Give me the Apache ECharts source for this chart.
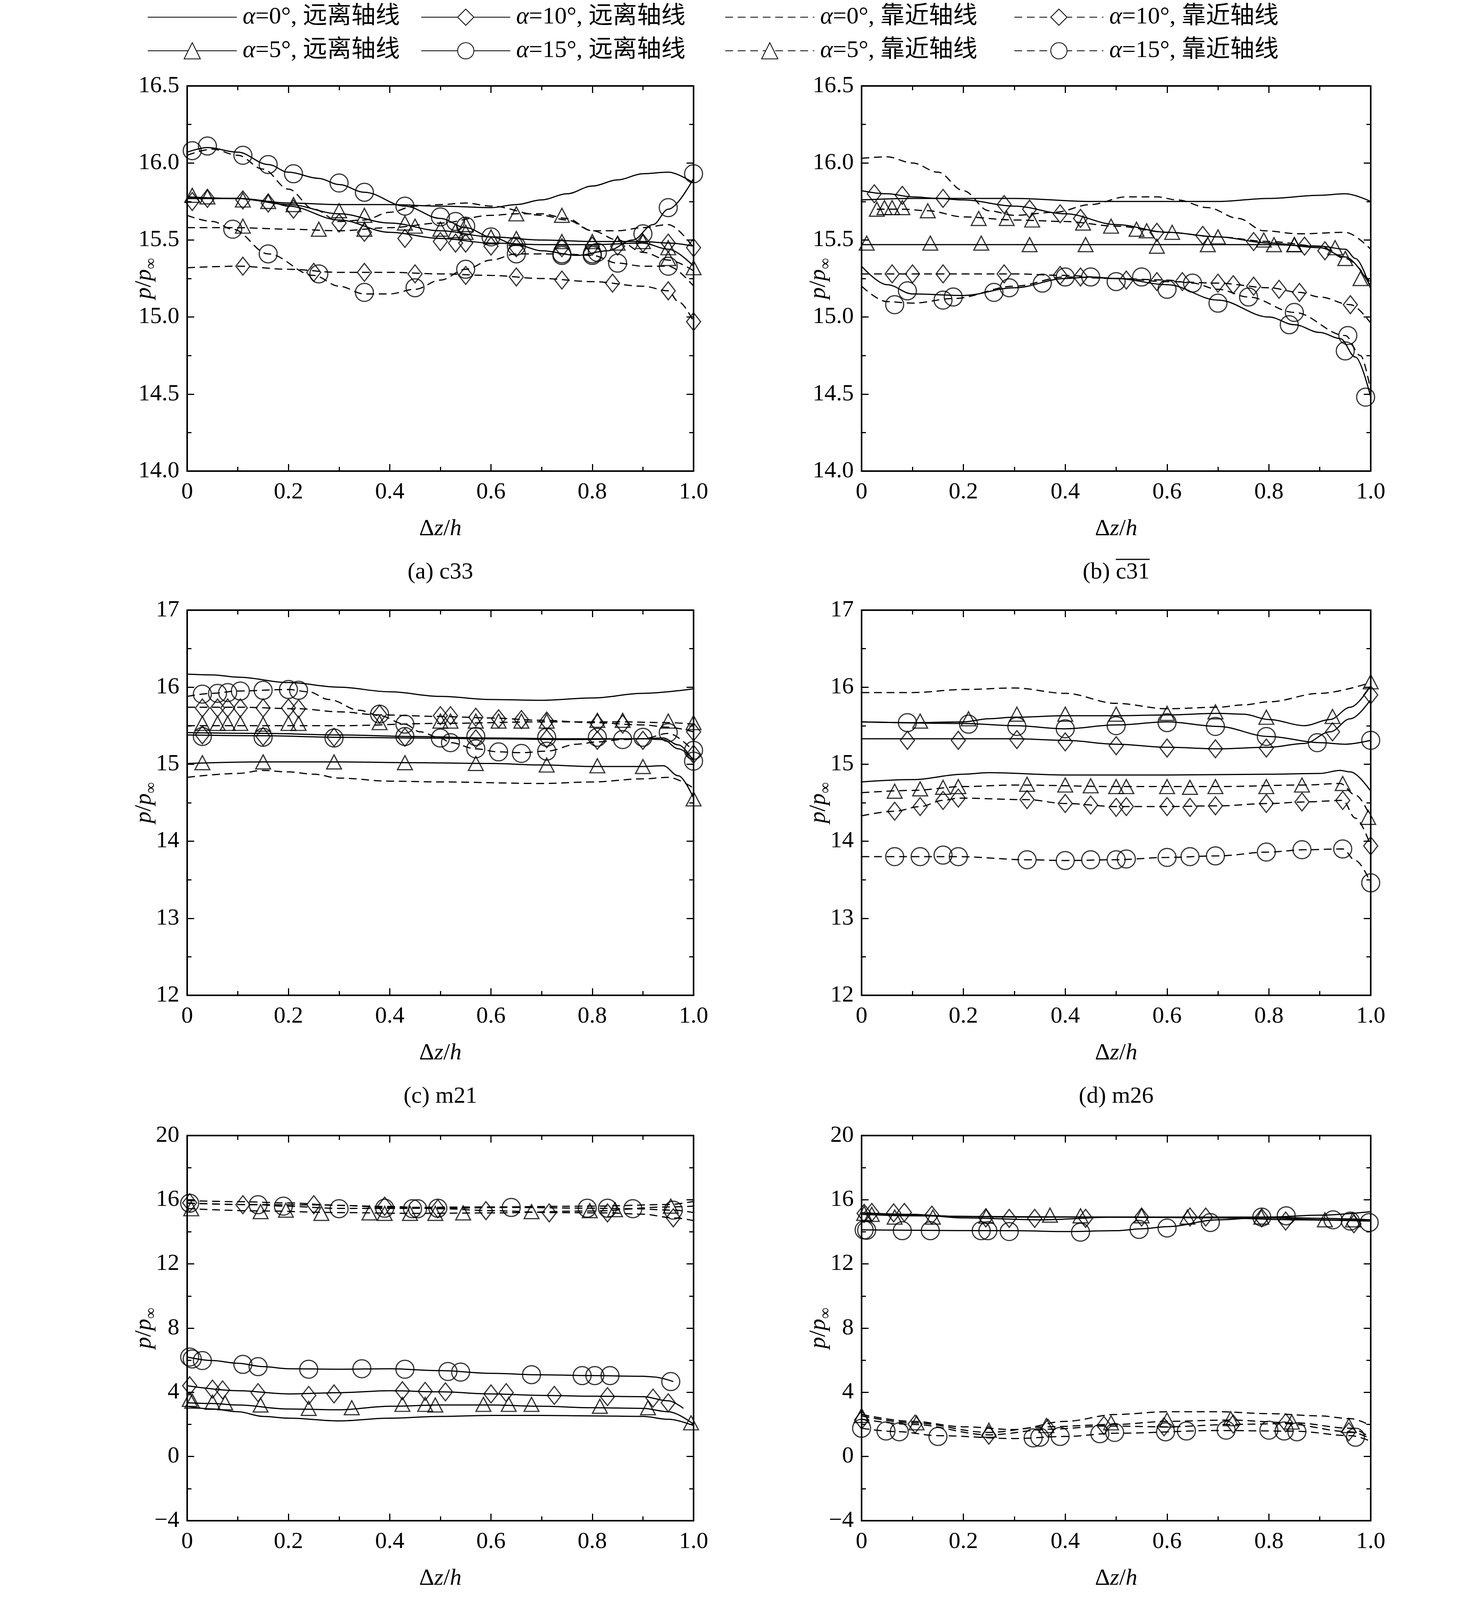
<!DOCTYPE html>
<html>
<head>
<meta charset="utf-8">
<script src="https://cdn.jsdelivr.net/npm/echarts@6/dist/echarts.min.js"></script>
<style>
  html, body { margin: 0; padding: 0; background: #fff; }
  #chart { width: 3780px; height: 4192px; }
</style>
</head>
<body>
<div id="chart"></div>
<script>
// ---- series names / tick labels ----
const legendNames = ['α=0°, 远离轴线', 'α=5°, 远离轴线', 'α=10°, 远离轴线', 'α=15°, 远离轴线',
                     'α=0°, 靠近轴线', 'α=5°, 靠近轴线', 'α=10°, 靠近轴线', 'α=15°, 靠近轴线'];
const xTickLabels = ['0', '0.2', '0.4', '0.6', '0.8', '1.0'];
const yTicksAB = ['14.0', '14.5', '15.0', '15.5', '16.0', '16.5'];
const yTicksCD = ['12', '13', '14', '15', '16', '17'];
const yTicksEF = ['−4', '0', '4', '8', '12', '16', '20'];
const subLabels = ['(a) ', '(b) ', '(c) ', '(d) ', '(e) ', '(f) '];
const subCodes = ['c33', 'c31', 'm21', 'm26', 'w10', 'w20'];
const subOverline = [false, true, false, false, true, true];

// ---- (a) c33 ----
const aFar0 = [[0,15.77],[0.1,15.77],[0.2,15.74],[0.3,15.73],[0.4,15.73],[0.5,15.72],[0.6,15.71],[0.65,15.73],[0.7,15.76],[0.75,15.80],[0.8,15.85],[0.85,15.89],[0.9,15.93],[0.95,15.94],[1.0,15.87]];
const aFar5 = [[0,15.78],[0.1,15.77],[0.2,15.73],[0.3,15.67],[0.4,15.61],[0.5,15.56],[0.6,15.52],[0.7,15.50],[0.8,15.49],[0.9,15.49],[0.95,15.48],[1.0,15.46]];
const aFar5Pts = [[0.01,15.79],[0.04,15.78],[0.11,15.76],[0.16,15.75],[0.21,15.73],[0.30,15.69],[0.35,15.66],[0.43,15.61],[0.45,15.59],[0.50,15.57],[0.53,15.56],[0.55,15.55],[0.60,15.52],[0.65,15.51],[0.74,15.49],[0.80,15.49],[0.85,15.48],[0.90,15.49],[0.95,15.45]];
const aFar10 = [[0,15.77],[0.1,15.77],[0.16,15.75],[0.2,15.72],[0.3,15.63],[0.4,15.55],[0.5,15.51],[0.6,15.48],[0.7,15.47],[0.8,15.47],[0.9,15.48],[0.95,15.44],[1.0,15.33]];
const aFar10Pts = [[0.01,15.75],[0.04,15.77],[0.11,15.76],[0.16,15.74],[0.21,15.70],[0.30,15.61],[0.35,15.55],[0.43,15.51],[0.50,15.49],[0.53,15.48],[0.55,15.48],[0.60,15.46],[0.65,15.45],[0.74,15.45],[0.80,15.46],[0.85,15.46],[0.90,15.48],[0.95,15.48],[1.0,15.45]];
const aFar15 = [[0,16.07],[0.04,16.1],[0.1,16.07],[0.16,15.99],[0.2,15.94],[0.26,15.9],[0.3,15.86],[0.35,15.81],[0.43,15.72],[0.5,15.64],[0.55,15.58],[0.6,15.52],[0.65,15.47],[0.7,15.43],[0.77,15.4],[0.83,15.43],[0.88,15.5],[0.92,15.6],[0.95,15.7],[1.0,15.9]];
const aFar15Pts = [[0.01,16.08],[0.04,16.11],[0.11,16.05],[0.16,15.99],[0.21,15.93],[0.30,15.87],[0.35,15.81],[0.43,15.72],[0.50,15.65],[0.53,15.62],[0.55,15.59],[0.60,15.52],[0.65,15.46],[0.74,15.41],[0.80,15.41],[0.81,15.42],[0.90,15.54],[0.95,15.71],[1.0,15.93]];
const aNear0 = [[0,16.05],[0.05,16.09],[0.1,16.05],[0.15,15.96],[0.2,15.83],[0.25,15.7],[0.3,15.62],[0.35,15.63],[0.4,15.68],[0.45,15.72],[0.5,15.73],[0.55,15.74],[0.6,15.72],[0.7,15.66],[0.75,15.63],[0.8,15.56],[0.85,15.56],[0.9,15.58],[0.95,15.6],[1.0,15.45]];
const aNear5 = [[0,15.58],[0.1,15.58],[0.2,15.57],[0.3,15.56],[0.4,15.58],[0.5,15.61],[0.6,15.66],[0.65,15.67],[0.7,15.67],[0.75,15.64],[0.8,15.56],[0.85,15.5],[0.9,15.42],[0.95,15.37],[1.0,15.3]];
const aNear5Pts = [[0.11,15.59],[0.26,15.57],[0.35,15.57],[0.55,15.6],[0.65,15.67],[0.74,15.66],[0.95,15.38],[1.0,15.32]];
const aNear10 = [[0,15.32],[0.1,15.33],[0.2,15.31],[0.3,15.29],[0.4,15.29],[0.5,15.28],[0.6,15.27],[0.7,15.25],[0.8,15.23],[0.9,15.2],[0.95,15.17],[0.97,15.1],[1.0,14.97]];
const aNear10Pts = [[0.11,15.33],[0.25,15.29],[0.35,15.29],[0.45,15.28],[0.55,15.27],[0.65,15.26],[0.74,15.24],[0.84,15.22],[0.95,15.17],[1.0,14.97]];
const aNear15 = [[0,15.66],[0.05,15.62],[0.09,15.57],[0.16,15.41],[0.25,15.27],[0.3,15.2],[0.35,15.15],[0.4,15.15],[0.45,15.18],[0.5,15.24],[0.55,15.31],[0.6,15.37],[0.65,15.41],[0.74,15.41],[0.8,15.4],[0.85,15.35],[0.9,15.33],[0.95,15.33],[1.0,15.2]];
const aNear15Pts = [[0.09,15.57],[0.16,15.41],[0.26,15.28],[0.35,15.16],[0.45,15.19],[0.55,15.31],[0.65,15.41],[0.74,15.40],[0.80,15.40],[0.85,15.35],[0.95,15.33]];

// ---- (b) c31 ----
const bFar0 = [[0,15.76],[0.1,15.77],[0.2,15.77],[0.3,15.77],[0.45,15.75],[0.6,15.75],[0.7,15.75],[0.8,15.77],[0.9,15.79],[0.95,15.80],[1.0,15.75]];
const bFar5 = [[0,15.47],[0.2,15.47],[0.4,15.47],[0.6,15.47],[0.8,15.47],[0.9,15.46],[0.95,15.44],[0.97,15.38],[1.0,15.18]];
const bFar5Pts = [[0.01,15.48],[0.135,15.48],[0.235,15.48],[0.33,15.47],[0.44,15.47],[0.58,15.46],[0.68,15.47],[0.81,15.47],[0.85,15.47]];
const bFar10 = [[0,15.82],[0.05,15.8],[0.1,15.78],[0.15,15.77],[0.2,15.76],[0.3,15.72],[0.4,15.67],[0.5,15.6],[0.6,15.55],[0.7,15.52],[0.8,15.48],[0.9,15.45],[0.95,15.39],[1.0,15.2]];
const bFar10Pts = [[0.025,15.80],[0.08,15.79],[0.16,15.77],[0.28,15.73],[0.33,15.70],[0.39,15.67],[0.43,15.64],[0.58,15.55],[0.67,15.53],[0.77,15.49],[0.87,15.46],[0.91,15.43]];
const bFar15 = [[0,15.33],[0.05,15.21],[0.1,15.15],[0.2,15.14],[0.3,15.19],[0.4,15.25],[0.45,15.26],[0.5,15.25],[0.6,15.21],[0.7,15.11],[0.8,15.0],[0.85,14.95],[0.9,14.9],[0.94,14.86],[0.97,14.74],[1.0,14.48]];
const bFar15Pts = [[0.09,15.17],[0.16,15.11],[0.18,15.13],[0.26,15.16],[0.29,15.19],[0.355,15.22],[0.40,15.26],[0.45,15.26],[0.50,15.23],[0.55,15.26],[0.60,15.18],[0.70,15.09],[0.84,14.95],[0.95,14.78],[0.99,14.48]];
const bNear0 = [[0,16.03],[0.05,16.04],[0.1,16.0],[0.15,15.94],[0.2,15.82],[0.25,15.69],[0.3,15.66],[0.38,15.68],[0.45,15.73],[0.52,15.78],[0.58,15.78],[0.62,15.76],[0.68,15.71],[0.74,15.64],[0.79,15.56],[0.86,15.54],[0.95,15.55],[1.0,15.44]];
const bNear5 = [[0.03,15.70],[0.08,15.70],[0.13,15.69],[0.2,15.65],[0.3,15.63],[0.4,15.62],[0.5,15.59],[0.6,15.55],[0.7,15.52],[0.8,15.49],[0.9,15.46],[0.95,15.38],[1.0,15.22]];
const bNear5Pts = [[0.03,15.70],[0.045,15.71],[0.06,15.71],[0.08,15.71],[0.13,15.69],[0.23,15.64],[0.285,15.64],[0.335,15.63],[0.435,15.61],[0.49,15.59],[0.54,15.57],[0.56,15.56],[0.61,15.55],[0.70,15.52],[0.79,15.5],[0.85,15.47],[0.93,15.45],[0.95,15.38],[0.98,15.25]];
const bNear10 = [[0,15.28],[0.1,15.28],[0.2,15.28],[0.3,15.28],[0.4,15.27],[0.5,15.25],[0.6,15.23],[0.7,15.22],[0.8,15.19],[0.86,15.16],[0.9,15.13],[0.96,15.08],[1.0,14.96]];
const bNear10Pts = [[0.06,15.28],[0.1,15.28],[0.16,15.28],[0.28,15.28],[0.39,15.27],[0.43,15.26],[0.52,15.24],[0.58,15.23],[0.63,15.23],[0.70,15.22],[0.73,15.21],[0.77,15.2],[0.82,15.18],[0.86,15.16],[0.96,15.08]];
const bNear15 = [[0,15.2],[0.05,15.1],[0.1,15.09],[0.18,15.12],[0.3,15.2],[0.4,15.26],[0.5,15.25],[0.6,15.24],[0.65,15.22],[0.7,15.18],[0.76,15.13],[0.85,15.03],[0.95,14.88],[0.98,14.75],[1.0,14.52]];
const bNear15Pts = [[0.065,15.08],[0.65,15.22],[0.76,15.13],[0.85,15.03],[0.955,14.88]];

// ---- (c) m21 ----
const cFar0 = [[0,16.17],[0.05,16.16],[0.1,16.13],[0.2,16.06],[0.3,16.0],[0.4,15.94],[0.5,15.88],[0.6,15.84],[0.7,15.83],[0.8,15.86],[0.9,15.92],[1.0,15.98]];
const cFar5 = [[0,15.01],[0.15,15.03],[0.3,15.03],[0.45,15.02],[0.6,15.01],[0.7,14.99],[0.8,14.97],[0.9,14.97],[0.94,14.98],[0.97,14.85],[1.0,14.56]];
const cFar5Pts = [[0.03,15.02],[0.15,15.03],[0.29,15.03],[0.43,15.02],[0.57,15.01],[0.71,14.99],[0.81,14.98],[0.90,14.97],[1.0,14.55]];
const cFar10 = [[0,15.41],[0.15,15.40],[0.3,15.38],[0.45,15.36],[0.6,15.34],[0.75,15.33],[0.9,15.33],[0.94,15.32],[0.97,15.2],[1.0,15.06]];
const cFar10Pts = [[0.03,15.38],[0.15,15.36],[0.29,15.35],[0.43,15.35],[0.57,15.33],[0.71,15.33],[0.81,15.31],[0.90,15.31],[1.0,15.13]];
const cFar15 = [[0,15.38],[0.15,15.37],[0.3,15.35],[0.45,15.34],[0.6,15.33],[0.75,15.32],[0.9,15.33],[0.94,15.34],[0.97,15.25],[1.0,15.04]];
const cFar15Pts = [[0.03,15.36],[0.15,15.35],[0.29,15.34],[0.43,15.36],[0.57,15.36],[0.71,15.35],[0.81,15.35],[0.86,15.32],[0.90,15.35],[1.0,15.04]];
const cNear0 = [[0,14.83],[0.1,14.88],[0.15,14.92],[0.2,14.9],[0.25,14.87],[0.3,14.82],[0.4,14.78],[0.5,14.77],[0.7,14.75],[0.8,14.77],[0.9,14.81],[0.95,14.83],[1.0,14.69]];
const cNear5 = [[0,15.5],[0.15,15.5],[0.3,15.5],[0.5,15.53],[0.7,15.55],[0.85,15.55],[0.95,15.54],[1.0,15.52]];
const cNear5Pts = [[0.03,15.53],[0.06,15.53],[0.08,15.53],[0.105,15.53],[0.15,15.52],[0.2,15.53],[0.22,15.53],[0.38,15.54],[0.5,15.56],[0.52,15.56],[0.57,15.56],[0.615,15.56],[0.66,15.56],[0.71,15.56],[0.81,15.57],[0.86,15.57],[0.95,15.56],[1.0,15.54]];
const cNear10 = [[0,15.74],[0.1,15.74],[0.22,15.72],[0.3,15.68],[0.38,15.64],[0.5,15.62],[0.6,15.6],[0.7,15.57],[0.8,15.54],[0.9,15.51],[0.95,15.48],[1.0,15.42]];
const cNear10Pts = [[0.03,15.73],[0.06,15.73],[0.08,15.73],[0.105,15.73],[0.15,15.73],[0.2,15.73],[0.22,15.72],[0.38,15.65],[0.5,15.63],[0.52,15.63],[0.57,15.61],[0.615,15.59],[0.66,15.58],[0.71,15.56],[0.81,15.53],[0.86,15.52],[1.0,15.42]];
const cNear15 = [[0,15.88],[0.05,15.92],[0.1,15.95],[0.2,15.97],[0.24,15.94],[0.28,15.84],[0.34,15.7],[0.38,15.63],[0.43,15.52],[0.46,15.42],[0.5,15.34],[0.52,15.28],[0.57,15.2],[0.615,15.16],[0.66,15.15],[0.71,15.17],[0.77,15.26],[0.81,15.29],[0.86,15.32],[0.9,15.33],[0.95,15.4],[1.0,15.17]];
const cNear15Pts = [[0.03,15.91],[0.06,15.92],[0.08,15.93],[0.105,15.95],[0.15,15.96],[0.2,15.97],[0.22,15.96],[0.38,15.65],[0.43,15.52],[0.5,15.34],[0.52,15.28],[0.57,15.2],[0.615,15.16],[0.66,15.14],[0.71,15.17],[0.95,15.41],[1.0,15.18]];

// ---- (d) m26 ----
const dFar0 = [[0,14.77],[0.1,14.8],[0.2,14.87],[0.25,14.89],[0.4,14.86],[0.6,14.86],[0.8,14.87],[0.9,14.88],[0.94,14.92],[0.96,14.9],[1.0,14.65]];
const dFar5 = [[0,15.55],[0.1,15.54],[0.2,15.55],[0.25,15.59],[0.3,15.61],[0.4,15.63],[0.5,15.63],[0.6,15.64],[0.7,15.66],[0.75,15.65],[0.8,15.58],[0.87,15.5],[0.92,15.58],[0.96,15.74],[1.0,16.02]];
const dFar5Pts = [[0.115,15.56],[0.21,15.59],[0.305,15.65],[0.4,15.65],[0.5,15.65],[0.6,15.66],[0.695,15.68],[0.795,15.61],[0.925,15.62],[1.0,16.07]];
const dFar10 = [[0,15.33],[0.15,15.33],[0.3,15.33],[0.4,15.31],[0.5,15.26],[0.6,15.22],[0.7,15.2],[0.8,15.22],[0.87,15.27],[0.92,15.42],[0.96,15.59],[1.0,15.84]];
const dFar10Pts = [[0.09,15.31],[0.19,15.31],[0.305,15.32],[0.4,15.29],[0.5,15.24],[0.6,15.21],[0.695,15.2],[0.795,15.21],[0.925,15.42],[1.0,15.9]];
const dFar15 = [[0,15.55],[0.2,15.53],[0.3,15.5],[0.4,15.46],[0.5,15.51],[0.6,15.55],[0.7,15.49],[0.8,15.36],[0.9,15.28],[0.95,15.26],[1.0,15.31]];
const dFar15Pts = [[0.09,15.54],[0.21,15.52],[0.305,15.49],[0.4,15.46],[0.5,15.5],[0.6,15.54],[0.695,15.49],[0.795,15.36],[0.895,15.28],[1.0,15.31]];
const dNear0 = [[0,15.93],[0.1,15.93],[0.2,15.97],[0.3,15.99],[0.4,15.92],[0.5,15.79],[0.6,15.72],[0.7,15.74],[0.75,15.77],[0.8,15.81],[0.9,15.92],[1.0,16.06]];
const dNear5 = [[0,14.63],[0.1,14.66],[0.2,14.71],[0.3,14.73],[0.5,14.71],[0.7,14.71],[0.87,14.73],[0.94,14.75],[0.97,14.6],[1.0,14.31]];
const dNear5Pts = [[0.065,14.65],[0.115,14.68],[0.16,14.70],[0.19,14.71],[0.325,14.74],[0.4,14.73],[0.45,14.72],[0.5,14.71],[0.52,14.71],[0.6,14.71],[0.645,14.70],[0.695,14.71],[0.795,14.71],[0.865,14.73],[0.945,14.75],[0.995,14.31]];
const dNear10 = [[0,14.33],[0.065,14.39],[0.115,14.45],[0.16,14.53],[0.19,14.56],[0.325,14.54],[0.4,14.49],[0.5,14.45],[0.6,14.45],[0.7,14.46],[0.8,14.49],[0.87,14.51],[0.945,14.53],[0.97,14.3],[1.0,13.94]];
const dNear10Pts = [[0.065,14.39],[0.115,14.45],[0.16,14.53],[0.19,14.56],[0.325,14.54],[0.4,14.49],[0.45,14.47],[0.5,14.44],[0.52,14.45],[0.6,14.45],[0.645,14.44],[0.695,14.46],[0.795,14.49],[0.865,14.51],[0.945,14.53],[1.0,13.94]];
const dNear15 = [[0,13.8],[0.1,13.8],[0.19,13.8],[0.325,13.76],[0.4,13.75],[0.5,13.76],[0.6,13.79],[0.7,13.81],[0.8,13.86],[0.87,13.89],[0.945,13.9],[0.97,13.75],[1.0,13.46]];
const dNear15Pts = [[0.065,13.8],[0.115,13.8],[0.16,13.82],[0.19,13.8],[0.325,13.76],[0.4,13.75],[0.45,13.76],[0.5,13.76],[0.52,13.77],[0.6,13.79],[0.645,13.8],[0.695,13.81],[0.795,13.86],[0.865,13.89],[0.945,13.9],[1.0,13.46]];

// ---- (e) w10 ----
const eFar0 = [[0,3.13],[0.05,2.96],[0.1,2.79],[0.15,2.5],[0.2,2.39],[0.3,2.22],[0.4,2.39],[0.5,2.5],[0.6,2.56],[0.7,2.56],[0.8,2.53],[0.9,2.5],[0.95,2.32],[1.0,1.93]];
const eFar5 = [[0,3.35],[0.05,3.3],[0.1,3.21],[0.2,2.96],[0.3,2.91],[0.4,3.13],[0.5,3.21],[0.6,3.21],[0.7,3.13],[0.8,3.04],[0.9,3.0],[0.95,2.79],[1.0,2.02]];
const eFar5Pts = [[0.005,3.56],[0.01,3.45],[0.05,3.38],[0.075,3.35],[0.145,3.21],[0.24,3.0],[0.325,3.04],[0.425,3.25],[0.47,3.25],[0.49,3.21],[0.585,3.25],[0.635,3.25],[0.68,3.25],[0.815,3.13],[0.91,3.04],[0.995,2.1]];
const eFar10 = [[0,4.41],[0.1,4.1],[0.2,3.9],[0.3,3.98],[0.4,4.1],[0.5,4.03],[0.6,3.9],[0.7,3.81],[0.8,3.76],[0.9,3.73],[0.95,3.47],[0.98,3.0]];
const eFar10Pts = [[0.005,4.41],[0.05,4.2],[0.07,4.15],[0.14,3.98],[0.24,3.81],[0.29,3.9],[0.425,4.1],[0.47,4.06],[0.51,4.03],[0.6,3.9],[0.63,3.98],[0.725,3.81],[0.83,3.73],[0.92,3.64],[0.95,3.35]];
const eFar15 = [[0,6.2],[0.05,5.98],[0.1,5.81],[0.15,5.6],[0.2,5.47],[0.3,5.44],[0.4,5.47],[0.5,5.35],[0.6,5.18],[0.7,5.09],[0.8,5.04],[0.9,5.0],[0.92,4.96],[0.96,4.67]];
const eFar15Pts = [[0.005,6.2],[0.01,6.08],[0.03,5.98],[0.11,5.74],[0.14,5.6],[0.24,5.44],[0.345,5.47],[0.43,5.44],[0.515,5.3],[0.54,5.26],[0.68,5.1],[0.78,5.04],[0.805,5.04],[0.835,5.04],[0.955,4.67]];
const eNear0 = [[0,15.95],[0.1,15.88],[0.2,15.8],[0.3,15.65],[0.4,15.52],[0.6,15.55],[0.8,15.6],[0.95,15.7],[1.0,15.9]];
const eNear5 = [[0,15.45],[0.15,15.3],[0.3,15.2],[0.45,15.15],[0.6,15.18],[0.8,15.3],[0.95,15.55],[1.0,15.6]];
const eNear5Pts = [[0.008,15.44],[0.145,15.26],[0.195,15.35],[0.265,15.15],[0.36,15.18],[0.39,15.15],[0.44,15.15],[0.49,15.15],[0.545,15.18],[0.68,15.26],[0.795,15.32],[0.845,15.38],[0.955,15.6]];
const eNear10 = [[0,15.8],[0.11,15.7],[0.25,15.68],[0.4,15.58],[0.5,15.44],[0.6,15.32],[0.72,15.2],[0.83,15.18],[0.9,15.1],[0.96,14.87],[1.0,14.7]];
const eNear10Pts = [[0.005,15.81],[0.11,15.69],[0.25,15.69],[0.39,15.6],[0.495,15.44],[0.59,15.32],[0.715,15.18],[0.83,15.18],[0.96,14.87]];
const eNear15 = [[0,15.78],[0.14,15.69],[0.19,15.6],[0.3,15.46],[0.4,15.46],[0.5,15.47],[0.64,15.52],[0.8,15.47],[0.88,15.44],[0.96,15.35],[1.0,15.2]];
const eNear15Pts = [[0.005,15.78],[0.14,15.69],[0.19,15.6],[0.3,15.44],[0.39,15.47],[0.445,15.44],[0.455,15.44],[0.495,15.47],[0.64,15.52],[0.79,15.47],[0.83,15.47],[0.88,15.44],[0.96,15.35]];

// ---- (f) w20 ----
const fFar0 = [[0,15.18],[0.1,15.05],[0.2,14.96],[0.5,14.92],[0.8,14.92],[0.9,15.04],[1.0,15.26]];
const fFar5 = [[0,15.09],[0.1,15.0],[0.3,14.92],[0.5,14.92],[0.8,14.87],[0.9,14.75],[1.0,14.7]];
const fFar5Pts = [[0.005,15.15],[0.02,15.09],[0.065,14.92],[0.14,14.92],[0.245,14.97],[0.37,15.04],[0.43,15.0],[0.55,15.0],[0.64,14.92],[0.785,14.92],[0.91,14.75],[0.965,14.75]];
const fFar10 = [[0,15.18],[0.1,15.09],[0.2,14.87],[0.35,14.75],[0.5,14.92],[0.7,14.87],[0.85,14.75],[1.0,14.67]];
const fFar10Pts = [[0.005,15.15],[0.02,15.21],[0.063,15.18],[0.084,15.21],[0.138,15.04],[0.244,14.87],[0.29,14.84],[0.34,14.84],[0.44,14.84],[0.55,14.92],[0.645,14.92],[0.676,14.92],[0.786,14.87],[0.833,14.67],[0.967,14.5]];
const fFar15 = [[0,14.12],[0.3,14.07],[0.4,14.02],[0.5,14.07],[0.55,14.19],[0.6,14.32],[0.7,14.75],[0.8,14.92],[0.9,14.84],[1.0,14.75]];
const fFar15Pts = [[0.005,14.12],[0.01,14.1],[0.08,14.07],[0.135,14.07],[0.235,14.07],[0.248,14.07],[0.29,14.02],[0.43,13.98],[0.545,14.15],[0.6,14.24],[0.685,14.58],[0.786,14.92],[0.834,15.0],[0.926,14.75],[0.96,14.67],[0.997,14.58]];
const fNear0 = [[0,2.62],[0.1,2.19],[0.2,1.85],[0.3,1.68],[0.4,2.19],[0.5,2.62],[0.6,2.79],[0.7,2.79],[0.8,2.67],[0.9,2.53],[0.96,2.36],[1.0,1.93]];
const fNear5 = [[0,2.53],[0.1,2.1],[0.25,1.5],[0.36,1.85],[0.5,2.0],[0.6,2.19],[0.72,2.27],[0.85,2.1],[0.96,1.76],[1.0,1.16]];
const fNear5Pts = [[0,2.56],[0.108,2.1],[0.25,1.64],[0.363,1.93],[0.49,2.1],[0.6,2.27],[0.725,2.36],[0.845,2.15],[0.957,1.93]];
const fNear10 = [[0,2.33],[0.1,2.0],[0.25,1.35],[0.37,1.7],[0.48,1.9],[0.6,1.85],[0.73,2.0],[0.83,2.05],[0.96,1.54],[1.0,1.1]];
const fNear10Pts = [[0,2.28],[0.105,2.02],[0.25,1.33],[0.366,1.76],[0.476,1.93],[0.594,1.85],[0.73,2.02],[0.833,2.1],[0.957,1.54]];
const fNear15 = [[0,1.76],[0.07,1.55],[0.15,1.3],[0.3,1.12],[0.4,1.25],[0.5,1.45],[0.7,1.62],[0.85,1.58],[0.96,1.3],[1.0,0.95]];
const fNear15Pts = [[0,1.76],[0.048,1.59],[0.074,1.54],[0.15,1.25],[0.337,1.16],[0.35,1.2],[0.39,1.25],[0.468,1.42],[0.497,1.5],[0.597,1.54],[0.638,1.59],[0.716,1.64],[0.8,1.64],[0.83,1.59],[0.855,1.54],[0.97,1.2]];

// panel wiring
const panels = [
  { yTicks: yTicksAB, curves: [aFar0, aFar5, aFar10, aFar15, aNear0, aNear5, aNear10, aNear15],
    marks: [null, aFar5Pts, aFar10Pts, aFar15Pts, null, aNear5Pts, aNear10Pts, aNear15Pts] },
  { yTicks: yTicksAB, curves: [bFar0, bFar5, bFar10, bFar15, bNear0, bNear5, bNear10, bNear15],
    marks: [null, bFar5Pts, bFar10Pts, bFar15Pts, null, bNear5Pts, bNear10Pts, bNear15Pts] },
  { yTicks: yTicksCD, curves: [cFar0, cFar5, cFar10, cFar15, cNear0, cNear5, cNear10, cNear15],
    marks: [null, cFar5Pts, cFar10Pts, cFar15Pts, null, cNear5Pts, cNear10Pts, cNear15Pts] },
  { yTicks: yTicksCD, curves: [dFar0, dFar5, dFar10, dFar15, dNear0, dNear5, dNear10, dNear15],
    marks: [null, dFar5Pts, dFar10Pts, dFar15Pts, null, dNear5Pts, dNear10Pts, dNear15Pts] },
  { yTicks: yTicksEF, curves: [eFar0, eFar5, eFar10, eFar15, eNear0, eNear5, eNear10, eNear15],
    marks: [null, eFar5Pts, eFar10Pts, eFar15Pts, null, eNear5Pts, eNear10Pts, eNear15Pts] },
  { yTicks: yTicksEF, curves: [fFar0, fFar5, fFar10, fFar15, fNear0, fNear5, fNear10, fNear15],
    marks: [null, fFar5Pts, fFar10Pts, fFar15Pts, null, fNear5Pts, fNear10Pts, fNear15Pts] }
];

// layout / styles
const SERIF = '"Liberation Serif", "Times New Roman", serif';
const MIXED = '"Liberation Serif", "Noto Sans CJK SC", serif';
const FS = 60;
const colLeft = [479, 2205];
const colWidth = [1296, 1303];
const rowTop = [220, 1562, 2907];
const plotH = 986;
const shapes = ['none', 'triangle', 'diamond', 'circle'];
const shapeSize = { triangle: [38, 36], diamond: [36, 46], circle: 46 };
const dashPattern = [20, 12];

function num(s) { return parseFloat(s.replace('−', '-')); }

function frameAxis(extra) {
  return Object.assign({
    type: 'value',
    splitLine: { show: false },
    axisLine: { show: true, onZero: false, lineStyle: { color: '#000', width: 4 } },
    axisTick: { show: true, inside: true, length: 18, lineStyle: { color: '#000', width: 3 } },
    minorTick: { show: true, splitNumber: 2, length: 11, lineStyle: { color: '#000', width: 3 } },
    axisLabel: { show: false },
    nameMoveOverlap: false
  }, extra);
}

const grids = [], xAxes = [], yAxes = [], series = [], graphics = [];

const measureCtx = document.createElement('canvas').getContext('2d');
measureCtx.font = FS + 'px "Liberation Serif"';

panels.forEach(function (p, i) {
  const col = i % 2, row = Math.floor(i / 2);
  const left = colLeft[col], top = rowTop[row], width = colWidth[col];
  grids.push({ left: left, top: top, width: width, height: plotH, containLabel: false });

  const yMin = num(p.yTicks[0]);
  const yMax = num(p.yTicks[p.yTicks.length - 1]);
  const yStep = (yMax - yMin) / (p.yTicks.length - 1);

  xAxes.push(frameAxis({
    gridIndex: i, position: 'bottom', min: 0, max: 1, interval: 0.2,
    axisLabel: {
      show: true, margin: 24, color: '#000', fontSize: FS, fontFamily: SERIF,
      formatter: function (v) { return xTickLabels[Math.round(v / 0.2)]; }
    },
    name: 'Δ{i|z}/{i|h}', nameLocation: 'middle', nameGap: 118,
    nameTextStyle: { color: '#000', fontSize: FS, fontFamily: SERIF,
      rich: { i: { fontStyle: 'italic', fontSize: FS, fontFamily: SERIF, color: '#000' } } }
  }));
  xAxes.push(frameAxis({ gridIndex: i, position: 'top', min: 0, max: 1, interval: 0.2 }));

  yAxes.push(frameAxis({
    gridIndex: i, position: 'left', min: yMin, max: yMax, interval: yStep,
    axisLabel: {
      show: true, margin: 20, color: '#000', fontSize: FS, fontFamily: SERIF,
      formatter: function (v) { return p.yTicks[Math.round((v - yMin) / yStep)]; }
    },
    name: '{i|p}/{i|p}{s|∞}', nameLocation: 'middle', nameGap: 72, nameRotate: 90,
    nameTextStyle: { color: '#000', fontSize: FS, fontFamily: SERIF,
      rich: {
        i: { fontStyle: 'italic', fontSize: FS, fontFamily: SERIF, color: '#000' },
        s: { fontSize: 40, fontFamily: SERIF, color: '#000', verticalAlign: 'bottom', padding: [36, 0, 0, 0] }
      } }
  }));
  yAxes.push(frameAxis({ gridIndex: i, position: 'right', min: yMin, max: yMax, interval: yStep }));

  // curves
  p.curves.forEach(function (curve, k) {
    const shape = shapes[k % 4];
    series.push({
      type: 'line', name: legendNames[k], xAxisIndex: 2 * i, yAxisIndex: 2 * i,
      data: curve, smooth: 0.35, smoothMonotone: 'x',
      symbol: shape === 'none' ? 'none' : 'empty' + shape.charAt(0).toUpperCase() + shape.slice(1),
      showSymbol: false, silent: true, z: 2,
      lineStyle: { color: '#000', width: 3, type: k >= 4 ? dashPattern : 'solid' },
      itemStyle: { color: '#000' }
    });
  });

  // subtitle
  const cx = left + width / 2, cy = top + 1245;
  const label = subLabels[i] + subCodes[i];
  graphics.push({
    type: 'text', x: cx, y: cy, silent: true,
    style: { text: label, x: 0, y: 0, align: 'center', verticalAlign: 'middle',
             font: FS + 'px "Liberation Serif"', fill: '#000' }
  });
  if (subOverline[i]) {
    const wAll = measureCtx.measureText(label).width;
    const wPre = measureCtx.measureText(subLabels[i]).width;
    const x0 = cx - wAll / 2 + wPre;
    graphics.push({
      type: 'line', silent: true,
      shape: { x1: x0, y1: cy - 33, x2: cx + wAll / 2, y2: cy - 33 },
      style: { stroke: '#000', lineWidth: 3 }
    });
  }
});

// markers (after all lines so legend icons come from line series)
panels.forEach(function (p, i) {
  p.marks.forEach(function (pts, k) {
    if (!pts) return;
    const shape = shapes[k % 4];
    series.push({
      type: 'scatter', name: legendNames[k], xAxisIndex: 2 * i, yAxisIndex: 2 * i,
      data: pts, symbol: shape, symbolSize: shapeSize[shape], silent: true, z: 3,
      itemStyle: { color: 'rgba(0,0,0,0)', borderColor: '#000', borderWidth: 3 }
    });
  });
});

// legend: four columns of two rows
const legendCols = [[0, 1], [2, 3], [4, 5], [6, 7]];
const legendLeft = [372, 1072, 1850, 2590];
const legends = legendCols.map(function (idx, c) {
  return {
    orient: 'vertical', left: legendLeft[c], top: 8,
    itemWidth: 228, itemHeight: 52, itemGap: 24,
    selectedMode: false,
    data: idx.map(function (k) {
      const item = { name: legendNames[k] };
      if (k % 4 === 0) item.itemStyle = { opacity: 0 };
      return item;
    }),
    formatter: function (n) { return '{i|α}' + n.slice(1); },
    textStyle: {
      color: '#000', fontSize: 62, fontFamily: MIXED,
      rich: { i: { fontStyle: 'italic', fontSize: 62, fontFamily: SERIF, color: '#000', padding: [0, 0, 0, 10] } }
    }
  };
});

const chart = echarts.init(document.getElementById('chart'));
chart.setOption({
  backgroundColor: '#fff',
  animation: false,
  legend: legends,
  grid: grids,
  xAxis: xAxes,
  yAxis: yAxes,
  series: series,
  graphic: graphics
});
</script>
</body>
</html>
